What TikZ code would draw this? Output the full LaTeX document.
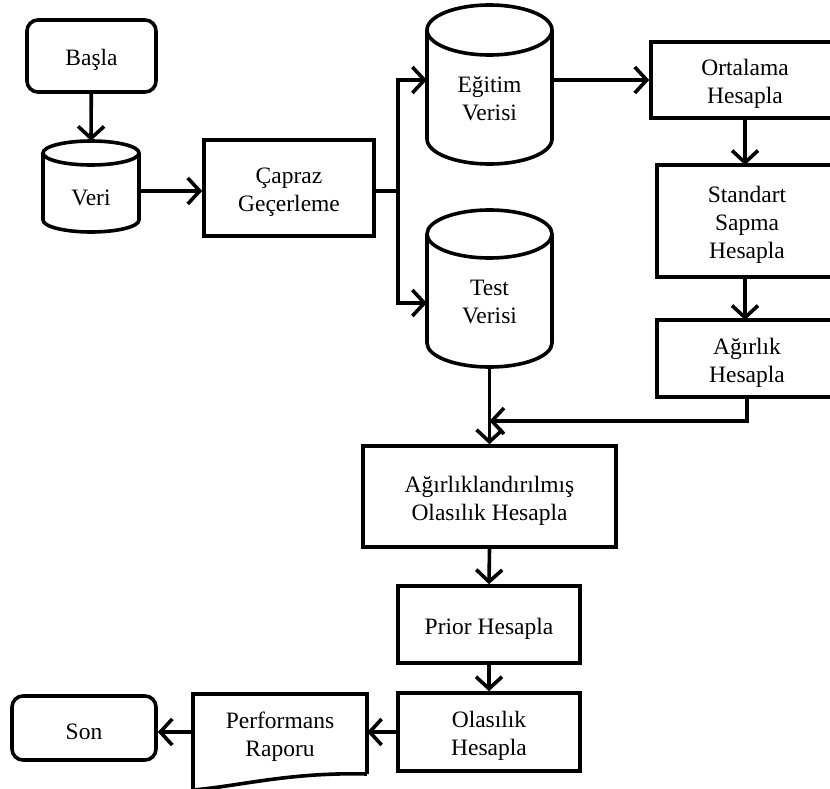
\documentclass[tikz,border=0pt]{standalone}
\usepackage{fontspec}
\setmainfont{Liberation Serif}
\usetikzlibrary{arrows.meta,calc}
\begin{document}
\begin{tikzpicture}[x=1pt,y=1pt,
  lw/.style={line width=3.6pt},
  txt/.style={font=\fontsize{23.5}{28}\selectfont, align=center, inner sep=0pt},
  txtl/.style={txt, yshift=-4pt},
  proc/.style={draw, lw, inner sep=0pt, minimum width=#1},
  rnd/.style={draw, lw, inner sep=0pt, rounded corners=11pt},
  frame/.style={inner sep=0pt},
  arr/.style={lw, -{Straight Barb[length=12pt,width=26pt]}},
  con/.style={lw}]
\useasboundingbox (0,0) rectangle (830,-789);

% start / end
\node[rnd, minimum width=129, minimum height=72, label={[txtl]center:Başla}] (basla) at (91.5,-56) {};
\node[rnd, minimum width=144, minimum height=64, label={[txtl]center:Son}] (son) at (84,-728) {};

% Veri cylinder
\node[frame, minimum width=96, minimum height=91] (veri) at (91,-186.5) {};
\draw[lw] (43,-153) -- (43,-220) arc[start angle=180, end angle=360, x radius=48, y radius=12]
  -- (139,-153) arc[start angle=0, end angle=180, x radius=48, y radius=12] -- cycle;
\draw[lw] (43,-153) arc[start angle=180, end angle=360, x radius=48, y radius=12];
\node[txt] (veritxt) at (91,-198) {Veri};

% Capraz
\node[proc=170, minimum height=96, label={[txtl]center:{Çapraz\\Geçerleme}}] (capraz) at (289,-188) {};

% Egitim cylinder
\node[frame, minimum width=125, minimum height=159] (egitim) at (489.5,-84.5) {};
\draw[lw] (427,-30) -- (427,-139) arc[start angle=180, end angle=360, x radius=62.5, y radius=25]
  -- (552,-30) arc[start angle=0, end angle=180, x radius=62.5, y radius=25] -- cycle;
\draw[lw] (427,-30) arc[start angle=180, end angle=360, x radius=62.5, y radius=25];
\node[txt] (egitimtxt) at (489.5,-99) {Eğitim\\Verisi};

% Test cylinder
\node[frame, minimum width=125, minimum height=157] (test) at (489.5,-288.5) {};
\draw[lw] (427,-234) -- (427,-343) arc[start angle=180, end angle=360, x radius=62.5, y radius=24]
  -- (552,-234) arc[start angle=0, end angle=180, x radius=62.5, y radius=24] -- cycle;
\draw[lw] (427,-234) arc[start angle=180, end angle=360, x radius=62.5, y radius=24];
\node[txt] (testtxt) at (489.5,-302) {Test\\Verisi};

% right column
\node[proc=188, minimum height=76, label={[txtl]center:{Ortalama\\Hesapla}}] (ortalama) at (745,-80) {};
\node[proc=180, minimum height=112, label={[txtl]center:{Standart\\Sapma\\Hesapla}}] (standart) at (747,-221) {};
\node[proc=180, minimum height=77, label={[txtl]center:{Ağırlık\\Hesapla}}] (agirlik) at (747,-358.5) {};

% lower column
\node[proc=253, minimum height=101, label={[txtl]center:{Ağırlıklandırılmış\\Olasılık Hesapla}}] (agw) at (489.5,-496.5) {};
\node[proc=182, minimum height=77, label={[txtl]center:Prior Hesapla}] (prior) at (489,-624.5) {};
\node[proc=182, minimum height=78, label={[txtl]center:{Olasılık\\Hesapla}}] (olas) at (489,-732) {};

% Performans document
\node[frame, minimum width=174, minimum height=76] (perf) at (280,-732) {};
\draw[lw] (367,-774) -- (367,-694) -- (193,-694) -- (193,-790)
  .. controls (240,-786) and (290,-772) .. (367,-774);
\node[txt] (perftxt) at (280,-737) {Performans\\Raporu};

% connectors
\coordinate (split) at (398,-191);
\coordinate (join) at (489.5,-421);
\draw[arr] (basla) -- (veri.north);
\draw[arr] ([yshift=-4.5]veri.east) -- ([yshift=-4.5]veri.east -| capraz.west);
\draw[con] (capraz.east |- split) -- (split);
\draw[arr] (split) |- ([yshift=4.5]egitim.west);
\draw[arr] (split) |- ([yshift=-14.5]test.west);
\draw[arr] (egitim.east |- ortalama.west) -- (ortalama.west);
\draw[arr] (745,-118) -- (745,-165);
\draw[arr] (745,-277) -- (745,-320);
\draw[arr] (agirlik.south) |- (join);
\draw[arr] (test.south) -- (agw.north);
\draw[arr] (agw.south) -- (prior.north);
\draw[arr] (prior.south) -- (olas.north);
\draw[arr] (olas.west) -- (perf.east);
\draw[arr] (perf.west) -- (son.east |- perf.west);
\end{tikzpicture}
\end{document}
